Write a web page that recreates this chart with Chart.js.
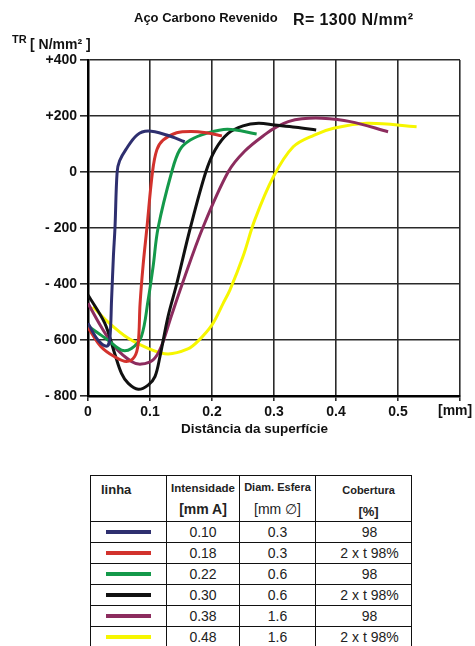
<!DOCTYPE html>
<html>
<head>
<meta charset="utf-8">
<script src="https://cdn.jsdelivr.net/npm/chart.js@4"></script>
<style>
body { margin: 0; background: #fff; font-family: "Liberation Sans", Arial, sans-serif; color: #111; }
.pagina { position: relative; width: 475px; height: 646px; overflow: hidden; background: #fff; }
#grafico { position: absolute; left: 0; top: 0; }
.txt { position: absolute; white-space: nowrap; line-height: 1; }
.tabela { position: absolute; left: 90px; top: 475px; border-collapse: collapse; }
.tabela td { border: 1.5px solid #111; padding: 0; text-align: center; font-size: 14px; color: #222; height: 20px; }
.tabela tr.cab td { height: 39px; vertical-align: top; font-weight: bold; }
.traco { display: block; width: 45px; height: 3.5px; margin: 0 auto; }
</style>
</head>
<body>
<div class="pagina">
  <canvas id="grafico" width="475" height="440"></canvas>

  <div class="txt" style="left:134px;top:11px;font-size:13px;font-weight:bold;">Aço Carbono Revenido</div>
  <div class="txt" style="left:293px;top:12px;font-size:16px;font-weight:bold;letter-spacing:0.4px;">R= 1300 N/mm²</div>
  <div class="txt" style="left:12px;top:34px;font-size:11px;font-weight:bold;">TR</div>
  <div class="txt" style="left:30px;top:37px;font-size:14px;font-weight:bold;">[ N/mm² ]</div>
  <div class="txt" style="left:438px;top:403px;font-size:14px;font-weight:bold;">[mm]</div>
  <div class="txt" style="left:181px;top:422px;font-size:13.5px;font-weight:bold;">Distância da superfície</div>

  <table class="tabela" id="tabela"></table>
</div>

<script>
// tensão residual TR [N/mm²] x distância da superfície [mm]
const distAzul = [0, 0.016, 0.03, 0.035, 0.038, 0.041, 0.0435, 0.047, 0.051, 0.061, 0.079, 0.097, 0.127, 0.156];
const trAzul   = [-540, -600, -622, -600, -457, -300, -200, 0, 40, 80, 132, 146, 132, 108];

const distVermelho = [0, 0.021, 0.043, 0.062, 0.075, 0.081, 0.084, 0.089, 0.095, 0.104, 0.111, 0.121, 0.143, 0.167, 0.191, 0.216];
const trVermelho   = [-555, -624, -660, -677, -660, -612, -470, -330, -200, 0, 79, 114, 140, 145, 140, 129];

const distVerde = [0, 0.016, 0.032, 0.054, 0.07, 0.086, 0.097, 0.105, 0.113, 0.135, 0.148, 0.165, 0.191, 0.225, 0.272];
const trVerde   = [-550, -575, -600, -636, -630, -588, -457, -338, -200, 0, 79, 114, 138, 153, 136];

const distPreto = [0, 0.027, 0.043, 0.054, 0.065, 0.081, 0.097, 0.108, 0.116, 0.129, 0.143, 0.165, 0.19, 0.205, 0.226, 0.25, 0.275, 0.301, 0.335, 0.368];
const trPreto   = [-439, -540, -648, -719, -755, -776, -761, -731, -660, -517, -400, -200, 0, 79, 138, 165, 174, 168, 160, 150];

const distMagenta = [0, 0.021, 0.043, 0.07, 0.086, 0.105, 0.118, 0.134, 0.152, 0.185, 0.226, 0.253, 0.288, 0.305, 0.323, 0.345, 0.377, 0.423, 0.484];
const trMagenta   = [-469, -552, -624, -677, -686, -671, -624, -517, -400, -200, 0, 75, 138, 162, 180, 190, 192, 180, 144];

const distAmarelo = [0.008, 0.032, 0.065, 0.097, 0.129, 0.161, 0.177, 0.2, 0.218, 0.229, 0.25, 0.269, 0.299, 0.331, 0.365, 0.396, 0.45, 0.53];
const trAmarelo   = [-481, -535, -594, -630, -650, -632, -605, -546, -469, -421, -302, -171, -17, 90, 132, 156, 174, 162];

// tabela
const intensidade = ['0.10', '0.18', '0.22', '0.30', '0.38', '0.48'];
const diametro = ['0.3', '0.3', '0.6', '0.6', '1.6', '1.6'];
const cobertura = ['98', '2 x t 98%', '98', '2 x t 98%', '98', '2 x t 98%'];

// eixos
const ticksX = [0, 0.1, 0.2, 0.3, 0.4, 0.5];
const ticksY = [400, 200, 0, -200, -400, -600, -800];

const cores = ['#2e2f6f', '#d2322d', '#14994a', '#111111', '#8c2c5e', '#f6f600'];

const series = [
    [distAzul, trAzul],
    [distVermelho, trVermelho],
    [distVerde, trVerde],
    [distPreto, trPreto],
    [distMagenta, trMagenta],
    [distAmarelo, trAmarelo]
];

const datasets = series.map(([xs, ys], i) => ({
    label: intensidade[i],
    data: xs.map((x, j) => ({ x: x, y: ys[j] })),
    borderColor: cores[i],
    backgroundColor: cores[i],
    borderWidth: 3,
    pointRadius: 0,
    tension: 0.35,
    fill: false
}));

const fonteEixo = { family: '"Liberation Sans", Arial, sans-serif', size: 14, weight: 'bold' };

const canvas = document.getElementById('grafico');
new Chart(canvas, {
    type: 'line',
    data: { datasets: datasets },
    options: {
        responsive: false,
        animation: false,
        layout: { padding: { top: 60, right: 15, left: 0, bottom: 0 } },
        plugins: { legend: { display: false }, tooltip: { enabled: false } },
        scales: {
            x: {
                type: 'linear',
                min: 0,
                max: 0.6,
                afterBuildTicks: (s) => { s.ticks = ticksX.concat([0.6]).map(v => ({ value: v })); },
                afterFit: (s) => { s.height = 44; },
                ticks: {
                    color: '#111',
                    font: fonteEixo,
                    padding: 3,
                    maxRotation: 0,
                    autoSkip: false,
                    callback: (v) => {
                        if (v >= 0.59) return '';
                        return v === 0 ? '0' : (Math.round(v * 10) / 10).toFixed(1);
                    }
                },
                grid: { color: '#2a2a2a', lineWidth: 1.6, tickLength: 5 },
                border: { color: '#000', width: 2.5 }
            },
            y: {
                min: -800,
                max: 400,
                afterBuildTicks: (s) => { s.ticks = ticksY.slice().reverse().map(v => ({ value: v })); },
                afterFit: (s) => { s.width = 88; },
                ticks: {
                    color: '#111',
                    font: fonteEixo,
                    padding: 3,
                    autoSkip: false,
                    callback: (v) => v > 0 ? '+' + v : (v < 0 ? '- ' + (-v) : '0')
                },
                grid: { color: '#2a2a2a', lineWidth: 1.6, tickLength: 8 },
                border: { color: '#000', width: 2.5 }
            }
        }
    }
});

// tabela de legenda
const tabela = document.getElementById('tabela');
let html = '<colgroup><col style="width:76px"><col style="width:73px"><col style="width:76px"><col style="width:96px"></colgroup>';
html += '<tr class="cab">' +
    '<td style="text-align:left;padding:6px 0 0 10px;font-size:13px;">linha</td>' +
    '<td><div style="font-size:11.5px;margin-top:6px;">Intensidade</div><div style="font-size:14px;margin-top:7px;">[mm A]</div></td>' +
    '<td><div style="font-size:11px;margin-top:5px;">Diam. Esfera</div><div style="font-size:14px;font-weight:normal;margin-top:8px;">[mm ∅]</div></td>' +
    '<td style="padding-left:10px;"><div style="font-size:11px;margin-top:8px;">Cobertura</div><div style="font-size:13px;margin-top:8px;">[%]</div></td>' +
    '</tr>';
intensidade.forEach((v, i) => {
    html += '<tr>' +
        '<td><span class="traco" style="background:' + cores[i] + '"></span></td>' +
        '<td>' + v + '</td>' +
        '<td>' + diametro[i] + '</td>' +
        '<td style="padding-left:12px;">' + cobertura[i] + '</td>' +
        '</tr>';
});
tabela.innerHTML = html;
</script>
</body>
</html>
